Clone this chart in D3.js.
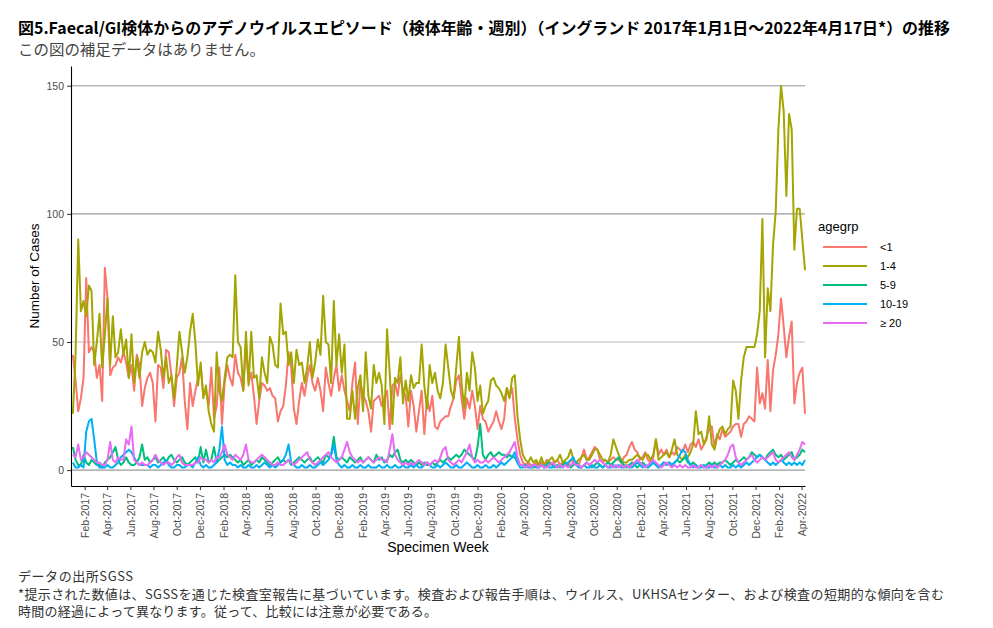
<!DOCTYPE html>
<html>
<head>
<meta charset="utf-8">
<script src="https://cdn.jsdelivr.net/npm/d3@7"></script>
<style>
  body { margin: 0; background: #fff; }
  text { font-family: "Liberation Sans", Arial, sans-serif; }
</style>
</head>
<body>
<div id="wrapper"></div>
<script>
// weekly counts, first week starting 2017-01-01
const firstWeek = "2017-01-01"

const ageLt1 = [
  45, 35, 23, 28, 36, 75, 46, 48, 46, 36,
  41, 27, 79, 67, 37, 40, 41, 44, 42, 46,
  42, 36, 41, 31, 45, 41, 25, 32, 36, 38,
  34, 19, 41, 40, 32, 47, 46, 37, 25, 36,
  38, 44, 27, 16, 34, 25, 31, 36, 40, 29,
  31, 25, 40, 20, 25, 40, 18, 34, 41, 36,
  33, 45, 38, 36, 31, 49, 34, 38, 29, 18,
  27, 34, 33, 31, 32, 29, 28, 19, 23, 25,
  33, 46, 40, 24, 18, 27, 34, 29, 36, 41,
  34, 31, 36, 31, 23, 40, 34, 29, 36, 41,
  31, 37, 31, 27, 23, 34, 42, 18, 34, 29,
  27, 23, 15, 27, 28, 29, 25, 28, 31, 16,
  33, 34, 29, 37, 31, 29, 17, 31, 25, 15,
  23, 31, 14, 28, 23, 29, 17, 16, 19, 20,
  21, 21, 25, 28, 35, 37, 28, 20, 28, 24,
  31, 25, 16, 25, 20, 19, 15, 17, 19, 23,
  19, 16, 20, 32, 29, 32, 20, 12, 6, 3,
  2, 3, 2, 2, 3, 2, 3, 2, 4, 3,
  2, 3, 4, 2, 3, 3, 2, 4, 3, 3,
  2, 5, 8, 4, 5, 7, 9, 8, 4, 3,
  4, 3, 4, 5, 4, 4, 3, 5, 6, 9,
  11, 8, 7, 4, 5, 7, 4, 3, 5, 12,
  6, 8, 6, 8, 5, 7, 6, 9, 8, 7,
  10, 7, 10, 11, 9, 12, 8, 10, 13, 16,
  17, 9, 14, 12, 16, 13, 14, 15, 17, 18,
  18, 13, 18, 19, 21, 20, 19, 40, 26, 30,
  24, 43, 23, 39, 45, 53, 67, 56, 44, 52,
  58, 26, 34, 38, 40, 22
]

const age1to4 = [
  22, 45, 90, 62, 66, 60, 72, 70, 41, 50,
  61, 40, 53, 67, 41, 60, 44, 46, 55, 45,
  51, 36, 53, 34, 44, 36, 46, 50, 45, 47,
  46, 42, 54, 47, 36, 44, 34, 37, 28, 40,
  54, 46, 38, 44, 54, 61, 50, 33, 42, 28,
  33, 23, 18, 15, 46, 31, 27, 36, 44, 45,
  44, 76, 50, 48, 31, 54, 33, 54, 36, 37,
  28, 44, 38, 34, 52, 49, 41, 40, 65, 53,
  54, 41, 46, 34, 47, 41, 42, 34, 40, 50,
  36, 42, 51, 45, 68, 50, 49, 34, 66, 41,
  53, 38, 49, 20, 20, 31, 20, 32, 37, 23,
  46, 29, 24, 41, 34, 38, 33, 18, 55, 38,
  18, 36, 34, 44, 26, 35, 27, 37, 32, 34,
  34, 49, 33, 24, 41, 34, 38, 31, 28, 34,
  49, 40, 31, 28, 40, 52, 34, 24, 38, 31,
  46, 40, 27, 33, 22, 25, 27, 35, 36, 33,
  32, 30, 27, 32, 28, 36, 37, 21, 12, 6,
  4, 3, 5, 3, 4, 2, 5, 2, 3, 4,
  5, 3, 4, 6, 3, 4, 5, 8, 4, 3,
  4, 5, 6, 4, 4, 6, 8, 8, 6, 4,
  4, 3, 6, 12, 9, 6, 4, 3, 3, 4,
  4, 5, 6, 5, 4, 6, 6, 4, 6, 12,
  4, 5, 6, 7, 5, 8, 12, 6, 5, 4,
  6, 5, 7, 10, 23, 14, 15, 10, 12, 21,
  10, 8, 13, 16, 17, 14, 16, 17, 35, 31,
  20, 35, 44, 48, 48, 48, 48, 53, 62, 98,
  44, 71, 62, 88, 101, 133, 150, 140, 107, 139,
  133, 86, 102, 102, 90, 78
]

const age5to9 = [
  9, 4, 2, 2, 6, 3, 2, 4, 3, 2,
  2, 1, 3, 4, 5, 7, 9, 4, 2, 3,
  5, 3, 2, 2, 3, 5, 10, 4, 5, 3,
  4, 5, 3, 4, 5, 3, 5, 6, 4, 3,
  4, 5, 3, 2, 3, 4, 5, 3, 9, 3,
  8, 3, 4, 9, 3, 4, 5, 6, 5, 6,
  5, 4, 3, 4, 2, 3, 4, 2, 3, 4,
  3, 5, 4, 3, 2, 3, 4, 5, 3, 4,
  3, 4, 2, 3, 4, 5, 4, 3, 4, 5,
  3, 4, 5, 4, 3, 6, 5, 6, 13, 5,
  4, 5, 4, 3, 5, 4, 3, 4, 5, 3,
  4, 5, 4, 3, 6, 4, 5, 3, 4, 6,
  5, 7, 8, 4, 3, 4, 3, 4, 3, 2,
  3, 2, 3, 2, 2, 3, 2, 3, 4, 3,
  4, 5, 4, 5, 6, 5, 6, 8, 7, 6,
  5, 4, 9, 18, 6, 4, 6, 7, 5, 6,
  7, 6, 6, 5, 6, 5, 5, 3, 2, 2,
  1, 2, 1, 1, 2, 1, 2, 1, 2, 3,
  2, 1, 2, 1, 2, 3, 2, 1, 2, 3,
  2, 1, 2, 3, 2, 1, 2, 3, 2, 1,
  2, 3, 2, 3, 4, 5, 3, 2, 1, 2,
  3, 2, 1, 2, 3, 2, 1, 2, 3, 2,
  1, 2, 3, 2, 3, 2, 3, 4, 3, 4,
  5, 3, 2, 3, 2, 1, 2, 1, 2, 3,
  2, 3, 2, 3, 3, 4, 3, 2, 3, 4,
  3, 4, 5, 4, 5, 7, 6, 5, 6, 5,
  4, 6, 7, 8, 6, 5, 6, 4, 5, 6,
  7, 4, 5, 6, 8, 7
]

const age10to19 = [
  3, 1, 1, 2, 1, 15, 19, 20, 12, 3,
  1, 1, 1, 2, 1, 1, 2, 3, 5, 6,
  7, 8, 7, 5, 3, 2, 2, 2, 2, 1,
  2, 2, 1, 2, 3, 4, 2, 1, 1, 2,
  2, 1, 1, 2, 2, 1, 3, 5, 2, 1,
  2, 1, 1, 2, 3, 8, 17, 4, 2, 3,
  2, 2, 1, 2, 1, 1, 2, 1, 1, 2,
  1, 2, 3, 2, 1, 2, 1, 2, 3, 4,
  6, 10, 3, 2, 1, 1, 2, 1, 1, 2,
  1, 1, 2, 3, 2, 3, 4, 6, 10, 4,
  2, 1, 2, 1, 1, 2, 1, 1, 2, 1,
  1, 2, 1, 1, 1, 2, 1, 1, 2, 1,
  1, 2, 1, 1, 2, 1, 1, 2, 1, 2,
  1, 1, 2, 3, 2, 1, 1, 2, 1, 2,
  3, 2, 1, 1, 2, 1, 1, 2, 3, 2,
  1, 1, 2, 1, 1, 2, 1, 1, 2, 1,
  2, 3, 2, 3, 4, 5, 7, 3, 1, 1,
  2, 1, 1, 2, 1, 1, 2, 1, 2, 1,
  1, 2, 1, 2, 1, 2, 3, 4, 5, 2,
  1, 1, 2, 1, 1, 2, 1, 1, 2, 1,
  2, 1, 1, 2, 1, 2, 1, 1, 2, 1,
  1, 2, 3, 2, 1, 2, 1, 2, 3, 2,
  1, 2, 3, 2, 3, 2, 3, 4, 6, 8,
  7, 4, 2, 1, 2, 1, 1, 2, 1, 1,
  2, 1, 1, 2, 1, 2, 1, 1, 2, 1,
  2, 1, 2, 3, 2, 3, 4, 5, 6, 5,
  4, 3, 2, 3, 2, 3, 4, 3, 2, 3,
  2, 3, 2, 3, 2, 4
]

const age20plus = [
  6, 5, 10, 4, 5, 7, 6, 5, 4, 3,
  3, 2, 2, 4, 11, 4, 3, 5, 4, 4,
  12, 10, 17, 4, 3, 2, 3, 2, 2, 3,
  4, 6, 4, 3, 2, 3, 3, 2, 3, 5,
  6, 3, 2, 2, 2, 2, 3, 3, 5, 4,
  4, 3, 4, 3, 5, 5, 7, 10, 6, 5,
  4, 6, 5, 4, 6, 10, 4, 3, 3, 4,
  5, 6, 5, 4, 3, 2, 2, 3, 2, 2,
  3, 4, 3, 2, 3, 4, 5, 6, 7, 4,
  3, 2, 3, 4, 5, 6, 7, 5, 4, 3,
  4, 5, 8, 11, 7, 5, 4, 3, 4, 3,
  4, 5, 4, 3, 4, 5, 4, 4, 3, 8,
  14, 6, 4, 3, 2, 3, 2, 3, 2, 3,
  4, 3, 2, 3, 2, 3, 4, 3, 5, 8,
  9, 4, 3, 2, 3, 4, 3, 5, 7, 10,
  5, 3, 4, 3, 3, 4, 3, 4, 5, 4,
  3, 4, 5, 6, 7, 9, 11, 5, 2, 2,
  1, 2, 1, 2, 2, 1, 2, 1, 1, 2,
  3, 2, 1, 2, 1, 2, 1, 2, 3, 2,
  2, 1, 2, 3, 2, 3, 4, 3, 4, 3,
  2, 1, 2, 1, 2, 1, 2, 1, 2, 1,
  2, 3, 4, 3, 2, 1, 2, 3, 4, 3,
  2, 1, 2, 3, 2, 1, 2, 1, 2, 1,
  2, 1, 1, 2, 1, 1, 2, 1, 1, 2,
  1, 2, 1, 2, 3, 4, 6, 9, 10, 5,
  3, 2, 3, 4, 5, 6, 4, 3, 4, 5,
  4, 5, 6, 7, 4, 3, 4, 5, 6, 7,
  5, 4, 6, 8, 11, 10
]

const ageGroups = ["<1", "1-4", "5-9", "10-19", "\u2265 20"]
const groupColors = ["#F8766D", "#A3A500", "#00BF7D", "#00B0F6", "#E76BF3"]
const yTicks = [0, 50, 100, 150]
const xTickLabels = [
  "Feb-2017", "Apr-2017", "Jun-2017", "Aug-2017", "Oct-2017", "Dec-2017",
  "Feb-2018", "Apr-2018", "Jun-2018", "Aug-2018", "Oct-2018", "Dec-2018",
  "Feb-2019", "Apr-2019", "Jun-2019", "Aug-2019", "Oct-2019", "Dec-2019",
  "Feb-2020", "Apr-2020", "Jun-2020", "Aug-2020", "Oct-2020", "Dec-2020",
  "Feb-2021", "Apr-2021", "Jun-2021", "Aug-2021", "Oct-2021", "Dec-2021",
  "Feb-2022", "Apr-2022"
]

const titleText = "図5.Faecal/GI検体からのアデノウイルスエピソード（検体年齢・週別）（イングランド 2017年1月1日～2022年4月17日*）の推移"
const subtitleText = "この図の補足データはありません。"
const footerLines = [
  "データの出所SGSS",
  "*提示された数値は、SGSSを通じた検査室報告に基づいています。検査および報告手順は、ウイルス、UKHSAセンター、および検査の短期的な傾向を含む",
  "時間の経過によって異なります。従って、比較には注意が必要である。"
]
const footerWidths = [115, 926, 419]

// ---- build series
const start = d3.utcParse("%Y-%m-%d")(firstWeek)
const allSeries = [ageLt1, age1to4, age5to9, age10to19, age20plus]
const series = allSeries.map((vals, k) => ({
  group: ageGroups[k],
  color: groupColors[k],
  points: vals.map((v, i) => ({ date: d3.utcDay.offset(start, i * 7), value: v }))
}))

const width = 993, height = 628
const panel = { left: 71, right: 805, top: 66, bottom: 486 }

const svg = d3.select("#wrapper").append("svg")
  .attr("width", width)
  .attr("height", height)

const xScale = d3.scaleUtc()
  .domain([d3.utcParse("%Y-%m-%d")("2016-12-27"), d3.utcParse("%Y-%m-%d")("2022-04-10")])
  .range([panel.left, panel.right])

const yScale = d3.scaleLinear()
  .domain([-6.2, 157.7])
  .range([panel.bottom, panel.top])

// gridlines
svg.append("g").selectAll("line")
  .data(yTicks)
  .join("line")
    .attr("x1", panel.left)
    .attr("x2", panel.right)
    .attr("y1", d => yScale(d))
    .attr("y2", d => yScale(d))
    .attr("stroke", d => d === 50 ? "#d2d2d2" : "#b7b7b7")
    .attr("stroke-width", 1.6)

// lines
const lineGen = d3.line()
  .x(d => xScale(d.date))
  .y(d => yScale(d.value))

svg.append("g").selectAll("path")
  .data(series)
  .join("path")
    .attr("d", d => lineGen(d.points))
    .attr("fill", "none")
    .attr("stroke", d => d.color)
    .attr("stroke-width", 2)
    .attr("stroke-linejoin", "round")

// x axis
const parseTick = d3.utcParse("%b-%Y")
const xAxis = svg.append("g")
  .attr("transform", `translate(0,${panel.bottom})`)
  .call(d3.axisBottom(xScale)
    .tickValues(xTickLabels.map(parseTick))
    .tickFormat(d3.utcFormat("%b-%Y"))
    .tickSize(4)
    .tickSizeOuter(0))
xAxis.select(".domain").attr("stroke", "#000").attr("stroke-width", 1.1)
xAxis.selectAll(".tick line").attr("stroke", "#333")
xAxis.selectAll(".tick text")
  .attr("transform", "rotate(-90)")
  .attr("text-anchor", "end")
  .attr("x", -7)
  .attr("y", 0)
  .attr("dy", "0.35em")
  .attr("fill", "#4d4d4d")
  .style("font-size", "10.5px")
  .style("font-family", "'Liberation Sans', Arial, sans-serif")

// y axis
const yAxis = svg.append("g")
  .attr("transform", `translate(${panel.left},0)`)
  .call(d3.axisLeft(yScale)
    .tickValues(yTicks)
    .tickSize(4)
    .tickSizeOuter(0))
yAxis.select(".domain").attr("stroke", "#000").attr("stroke-width", 1.1)
yAxis.selectAll(".tick line").attr("stroke", "#333")
yAxis.selectAll(".tick text")
  .attr("fill", "#4d4d4d")
  .attr("x", -7)
  .style("font-size", "10.5px")
  .style("font-family", "'Liberation Sans', Arial, sans-serif")

// axis titles
svg.append("text")
  .attr("x", (panel.left + panel.right) / 2)
  .attr("y", 552)
  .attr("text-anchor", "middle")
  .style("font-size", "14px")
  .text("Specimen Week")

svg.append("text")
  .attr("transform", `translate(39,${(panel.top + panel.bottom) / 2}) rotate(-90)`)
  .attr("text-anchor", "middle")
  .style("font-size", "13.5px")
  .text("Number of Cases")

// legend
const legend = svg.append("g").attr("transform", "translate(818,0)")
legend.append("text")
  .attr("x", 0)
  .attr("y", 231)
  .style("font-size", "13px")
  .text("agegrp")

const legendRows = legend.selectAll("g.row")
  .data(series)
  .join("g")
    .attr("class", "row")
    .attr("transform", (d, i) => `translate(0,${247 + i * 19})`)
legendRows.append("line")
  .attr("x1", 5).attr("x2", 49)
  .attr("stroke", d => d.color)
  .attr("stroke-width", 2)
legendRows.append("text")
  .attr("x", 62)
  .attr("dy", "0.35em")
  .style("font-size", "11px")
  .text(d => d.group)

// titles
svg.append("text")
  .attr("x", 18)
  .attr("y", 34)
  .attr("textLength", 932)
  .attr("lengthAdjust", "spacingAndGlyphs")
  .style("font-size", "16px")
  .style("font-weight", "bold")
  .style("font-family", "'Noto Sans CJK JP', sans-serif")
  .text(titleText)

svg.append("text")
  .attr("x", 18)
  .attr("y", 55)
  .attr("textLength", 247)
  .attr("lengthAdjust", "spacingAndGlyphs")
  .attr("fill", "#444")
  .style("font-size", "15px")
  .style("font-family", "'Noto Sans CJK JP', sans-serif")
  .text(subtitleText)

// footer
svg.append("g").selectAll("text")
  .data(footerLines)
  .join("text")
    .attr("x", 18)
    .attr("y", (d, i) => 581 + i * 17.5)
    .attr("textLength", (d, i) => footerWidths[i])
    .attr("lengthAdjust", "spacing")
    .attr("fill", "#333")
    .style("font-size", "13px")
    .style("font-family", "'Noto Sans CJK JP', sans-serif")
    .text(d => d)
</script>
</body>
</html>
